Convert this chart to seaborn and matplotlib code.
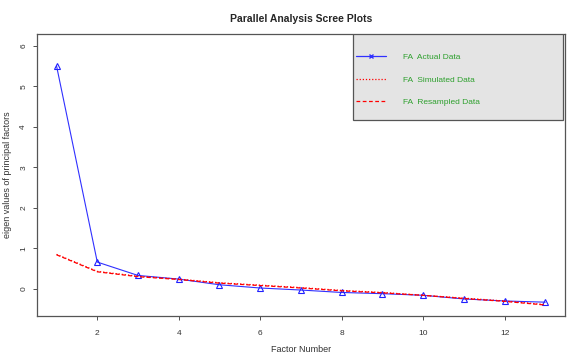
import matplotlib
matplotlib.use("Agg")
import matplotlib.pyplot as plt
import seaborn as sns
import pandas as pd
from matplotlib.lines import Line2D
from matplotlib.patches import Rectangle

# --- dados ---
fatores = list(range(1, 14))
fa_actual = [5.50, 0.66, 0.33, 0.24, 0.10, 0.02, -0.03, -0.09, -0.12, -0.16, -0.25, -0.30, -0.33]
fa_simulated = [0.85, 0.43, 0.31, 0.24, 0.15, 0.09, 0.03, -0.04, -0.09, -0.16, -0.23, -0.30, -0.39]
fa_resampled = [0.84, 0.42, 0.30, 0.23, 0.14, 0.08, 0.02, -0.05, -0.10, -0.16, -0.24, -0.31, -0.40]

df = pd.DataFrame({"fator": fatores, "actual": fa_actual,
                   "simulated": fa_simulated, "resampled": fa_resampled})

sns.set_style("white")
plt.rcParams['font.family'] = ['Liberation Sans', 'DejaVu Sans']

fig = plt.figure(figsize=(5.74, 3.55), dpi=100)
ax = fig.add_axes([0.0645, 0.110, 0.9195, 0.794])

sns.lineplot(data=df, x="fator", y="actual", ax=ax, color="#3030ff", lw=0.8,
             marker="^", markersize=4.5, markerfacecolor="none",
             markeredgecolor="#2020ff", markeredgewidth=0.8)
sns.lineplot(data=df, x="fator", y="simulated", ax=ax, color="red", lw=0.9,
             linestyle=(0, (1, 1.5)))
sns.lineplot(data=df, x="fator", y="resampled", ax=ax, color="red", lw=0.9,
             linestyle=(0, (3, 2)))

ax.set_xlim(0.52, 13.48)
ax.set_ylim(-0.67, 6.29)
ax.set_xticks([2, 4, 6, 8, 10, 12])
ax.set_yticks(range(0, 7))
ax.tick_params(axis="both", which="both", direction="out", length=3, width=0.6,
               labelsize=6, colors="#333333", pad=7, bottom=True, left=True)
ax.tick_params(axis="y", pad=4)
for lab in ax.get_yticklabels():
    lab.set_rotation(90)
    lab.set_va("center")
for sp in ax.spines.values():
    sp.set_color("#555555")
    sp.set_linewidth(0.9)

ax.set_xlabel("Factor Number", fontsize=6.5, color="#333333", labelpad=6)
ax.set_ylabel("eigen values of principal factors", fontsize=6.5, color="#333333", labelpad=6)
ax.set_title("Parallel Analysis Scree Plots", fontsize=7.5, fontweight="bold", pad=9)

# caixa cinza da legenda, como no R
ax.add_patch(Rectangle((0.598, 0.695), 0.398, 0.305, transform=ax.transAxes,
                       facecolor="#e4e4e4", edgecolor="#555555", lw=0.9,
                       zorder=4))
handles = [
    Line2D([], [], color="#3030ff", lw=0.9, marker="x", markersize=3, markevery=[1]),
    Line2D([], [], color="red", lw=0.9, linestyle=(0, (1, 1.5))),
    Line2D([], [], color="red", lw=0.9, linestyle=(0, (3, 2))),
]
labels = ["FA  Actual Data", "FA  Simulated Data", "FA  Resampled Data"]
leg = ax.legend(handles, labels, loc="upper left",
                bbox_to_anchor=(0.598, 0.943), borderaxespad=0, fontsize=6,
                handlelength=3.6, handletextpad=2.0, labelspacing=1.75,
                borderpad=0.4, frameon=False)
leg.set_zorder(5)
for t in leg.get_texts():
    t.set_color("#2ea02e")

fig.savefig("out.png", dpi=100)
